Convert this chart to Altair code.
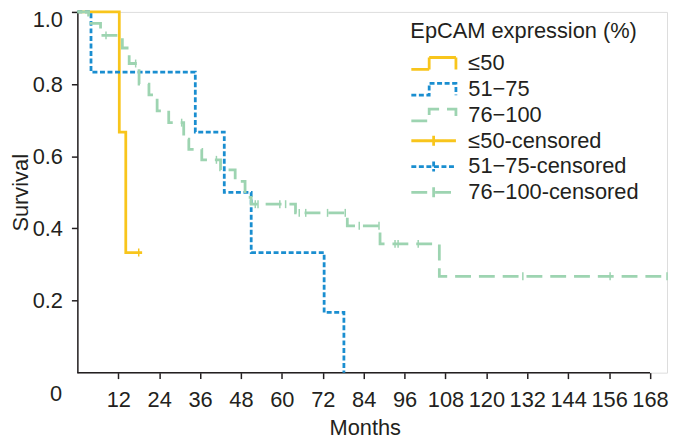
import altair as alt
import pandas as pd

YELLOW = "#F8C51C"
BLUE = "#1A8ED0"
GREEN = "#9DD4B1"
INK = "#231F20"
FONT = "Liberation Sans"

groups = ["≤50", "51−75", "76−100"]
cens_keys = [g + "-censored" for g in groups]
all_keys = groups + cens_keys
key_colors = [YELLOW, BLUE, GREEN, YELLOW, BLUE, GREEN]
key_dashes = [[1, 0], [5, 2.6], [16, 8], [1, 0], [5, 2.6], [16, 8]]

# group <=50
low_months = [0, 12.3, 14.2, 19.0]
low_surv = [1.0, 0.667, 0.333, 0.333]
low_cens_months = [18.0]
low_cens_surv = [0.333]

# group 51-75
mid_months = [0, 4.0, 34.6, 43.1, 51.0, 72.4, 78.2]
mid_surv = [1.0, 0.833, 0.667, 0.5, 0.333, 0.167, 0.0]
mid_cens_months = []
mid_cens_surv = []

# group 76-100
high_months = [0, 3.3, 6.8, 13.2, 15.2, 18.1, 21.0, 23.4, 26.8, 31.2, 32.7, 36.5,
               42.0, 46.3, 49.2, 51.0, 64.0, 79.2, 88.8, 106.2, 173.0]
high_surv = [1.0, 0.968, 0.935, 0.90, 0.857, 0.80, 0.77, 0.726, 0.693, 0.647, 0.619, 0.59,
             0.562, 0.53, 0.486, 0.467, 0.443, 0.407, 0.357, 0.267, 0.267]
high_cens_months = [8.4, 17.1, 30.6, 40.8, 52.2, 53.0, 59.4, 61.1, 65.1, 67.0, 73.4, 78.6,
                    82.7, 88.5, 93.2, 94.1, 100.0, 130.7, 156.3, 173.0]
high_cens_surv = [0.935, 0.857, 0.693, 0.59, 0.467, 0.467, 0.467, 0.467, 0.443, 0.443, 0.443, 0.443,
                  0.407, 0.407, 0.357, 0.357, 0.357, 0.267, 0.267, 0.267]

x_ticks = [0, 12, 24, 36, 48, 60, 72, 84, 96, 108, 120, 132, 144, 156, 168]
y_ticks = [0.2, 0.4, 0.6, 0.8, 1.0]
x_max = 173
axis_end = 168

lines = pd.concat([
    pd.DataFrame({"month": low_months, "surv": low_surv, "key": groups[0]}),
    pd.DataFrame({"month": mid_months, "surv": mid_surv, "key": groups[1]}),
    pd.DataFrame({"month": high_months, "surv": high_surv, "key": groups[2]}),
], ignore_index=True)

cens = pd.concat([
    pd.DataFrame({"month": low_cens_months, "surv": low_cens_surv, "key": cens_keys[0]}),
    pd.DataFrame({"month": mid_cens_months, "surv": mid_cens_surv, "key": cens_keys[1]}),
    pd.DataFrame({"month": high_cens_months, "surv": high_cens_surv, "key": cens_keys[2]}),
], ignore_index=True)

xscale = alt.Scale(domain=[0, x_max], nice=False, zero=False)
yscale = alt.Scale(domain=[0, 1], nice=False)

shape_expr = ("indexof(datum.value, 'censored') >= 0 ? 'M-4.5,0H4.5M0,-1V1' "
              ": 'M-4.5,1.2H-0.9V-1.2H4.5V1.2'")

legend = alt.Legend(
    title="EpCAM expression (%)",
    orient="none", legendX=336, legendY=9,
    titleFont=FONT, titleFontSize=22, titleFontWeight="normal", titleColor=INK,
    titlePadding=10, titleLimit=400,
    labelFont=FONT, labelFontSize=22, labelColor=INK, labelOffset=24, labelLimit=400,
    symbolType={"expr": shape_expr}, symbolSize=100, symbolStrokeWidth=2.8,
    symbolOffset=12.5, symbolFillColor="transparent",
    gridAlign="all", rowPadding=2,
)

color_enc = alt.Color("key:N", scale=alt.Scale(domain=all_keys, range=key_colors), legend=legend)
dash_enc = alt.StrokeDash("key:N", scale=alt.Scale(domain=all_keys, range=key_dashes), legend=legend)

x_axis = alt.Axis(
    values=x_ticks, title="Months", domain=False, labelFlush=False,
    labelFont=FONT, labelFontSize=22, labelColor=INK, labelPadding=11,
    labelOffset={"condition": {"test": "datum.value === 0", "value": -22}, "value": 0},
    tickSize={"condition": {"test": "datum.value === 0", "value": 0}, "value": 6},
    tickColor=INK, tickWidth=1.5, grid=False,
    titleFont=FONT, titleFontSize=22, titleFontWeight="normal", titleColor=INK,
    titleX=290, titleY=62, titleBaseline="alphabetic",
)
y_axis = alt.Axis(
    values=y_ticks, format=".1f", title="Survival",
    labelFont=FONT, labelFontSize=22, labelColor=INK, labelPadding=9,
    labelOffset={"condition": {"test": "datum.value === 1", "value": 8}, "value": 0},
    tickSize=6, tickColor=INK, tickWidth=1.5, grid=False,
    domainColor=INK, domainWidth=1.5,
    titleFont=FONT, titleFontSize=22, titleFontWeight="normal", titleColor=INK,
    titleX=-57, titleY=182, titleBaseline="middle", titleAngle=270, titleAlign="center",
)

line_layer = alt.Chart(lines).mark_line(interpolate="step-after", strokeWidth=2.8).encode(
    x=alt.X("month:Q", scale=xscale, axis=x_axis),
    y=alt.Y("surv:Q", scale=yscale, axis=y_axis),
    color=color_enc,
    strokeDash=dash_enc,
    order=alt.Order("month:Q"),
)

cens_layer = alt.Chart(cens).mark_point(
    shape="M0,-1V1", size=64, filled=False, strokeWidth=1.5, opacity=1
).encode(
    x=alt.X("month:Q", scale=xscale),
    y=alt.Y("surv:Q", scale=yscale),
    color=color_enc,
    strokeDash=dash_enc,
)

axis_line = alt.Chart(pd.DataFrame({"a": [0], "b": [axis_end], "c": [0]})).mark_rule(
    color=INK, strokeWidth=1.5
).encode(
    x=alt.X("a:Q", scale=xscale),
    x2="b:Q",
    y=alt.Y("c:Q", scale=yscale),
)

chart = alt.layer(axis_line, line_layer, cens_layer).properties(
    width=595, height=364,
    autosize=alt.AutoSizeParams(type="none"),
    padding={"left": 70, "top": 2, "right": 2, "bottom": 66},
).configure_view(stroke=None).configure(background="white")

chart.save("out.html", embed_options={"renderer": "svg", "actions": False})
